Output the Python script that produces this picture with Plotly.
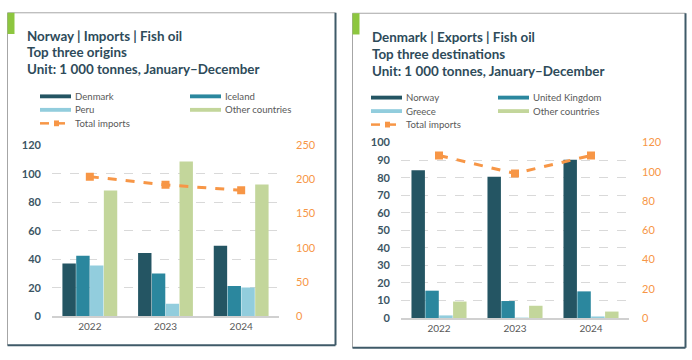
import plotly.graph_objects as go

# ---------------- data ----------------
years = ["2022", "2023", "2024"]

# Norway imports of fish oil (1 000 tonnes)
no_denmark = [37.0, 44.5, 49.5]
no_iceland = [42.5, 30.0, 21.3]
no_peru = [35.7, 8.8, 20.2]
no_other = [88.3, 108.5, 92.4]
no_total = [204, 192, 184]

# Denmark exports of fish oil (1 000 tonnes)
dk_norway = [84.3, 80.6, 90.3]
dk_uk = [15.6, 9.7, 15.2]
dk_greece = [1.5, 0.1, 0.9]
dk_other = [9.4, 7.0, 3.7]
dk_total = [111.2, 98.9, 111.2]

left_names = ["Denmark", "Iceland", "Peru", "Other countries"]
right_names = ["Norway", "United Kingdom", "Greece", "Other countries"]

# ---------------- style ----------------
W, H = 692, 360
C_DARK = "#245563"
C_MID = "#2B879E"
C_LIGHT = "#92CDDD"
C_GREEN = "#C3D69B"
C_ORANGE = "#F79646"
C_TITLE = "#2E4B5A"
C_TEXT = "#595959"
C_TICK = "#3B5564"
FONT = "Lato"
bar_colors = [C_DARK, C_MID, C_LIGHT, C_GREEN]


def px(x):
    return x / W


def py(y):
    return 1 - y / H


fig = go.Figure()

left_series = [no_denmark, no_iceland, no_peru, no_other]
right_series = [dk_norway, dk_uk, dk_greece, dk_other]

for name, vals, col in zip(left_names, left_series, bar_colors):
    fig.add_trace(go.Bar(x=years, y=vals, name=name, marker_color=col,
                         marker_line_width=0, xaxis="x", yaxis="y",
                         showlegend=False, offsetgroup=name))
fig.add_trace(go.Scatter(x=years, y=no_total, name="Total imports", mode="lines+markers",
                         line=dict(color=C_ORANGE, width=3, dash="dash"),
                         marker=dict(symbol="square", size=8, color=C_ORANGE),
                         xaxis="x", yaxis="y2", showlegend=False))

for name, vals, col in zip(right_names, right_series, bar_colors):
    fig.add_trace(go.Bar(x=years, y=vals, name=name, marker_color=col,
                         marker_line_width=0, xaxis="x2", yaxis="y3",
                         showlegend=False, offsetgroup=name + "r"))
fig.add_trace(go.Scatter(x=years, y=dk_total, name="Total imports", mode="lines+markers",
                         line=dict(color=C_ORANGE, width=3, dash="dash"),
                         marker=dict(symbol="square", size=8, color=C_ORANGE),
                         xaxis="x2", yaxis="y4", showlegend=False))

grid = dict(showgrid=True, gridcolor="#D9D9D9", griddash="dash", gridwidth=1,
            zeroline=False, showline=False, ticks="")
xcommon = dict(showgrid=False, showline=True, linecolor="#D0D0D0", linewidth=1.5,
               ticks="", tickfont=dict(family=FONT, size=10, color=C_TEXT),
               type="category")

fig.update_layout(
    width=W, height=H, margin=dict(l=0, r=0, t=0, b=0),
    paper_bgcolor="white", plot_bgcolor="white",
    barmode="group", bargap=0.27, bargroupgap=0.03,
    showlegend=False,
    font=dict(family=FONT, color=C_TEXT),
    xaxis=dict(domain=[px(52), px(279)], anchor="y", **xcommon),
    yaxis=dict(domain=[py(321), py(143.3)], range=[0, 120], dtick=20, anchor="x",
               tickfont=dict(family=FONT, size=11, color=C_TICK, weight="bold"),
               ticklabelstandoff=10, **grid),
    yaxis2=dict(domain=[py(321), py(143.3)], range=[0, 250], dtick=50, overlaying="y",
                side="right", anchor="x", showgrid=False, zeroline=False, ticks="",
                tickfont=dict(family=FONT, size=11, color=C_ORANGE), ticklabelstandoff=16),
    xaxis2=dict(domain=[px(401), px(629)], anchor="y3", **xcommon),
    yaxis3=dict(domain=[py(322.7), py(140.7)], range=[0, 100], dtick=10, anchor="x2",
                tickfont=dict(family=FONT, size=11, color=C_TICK, weight="bold"),
                ticklabelstandoff=10, **grid),
    yaxis4=dict(domain=[py(322.7), py(140.7)], range=[0, 120], dtick=20, overlaying="y3",
                side="right", anchor="x2", showgrid=False, zeroline=False, ticks="",
                tickfont=dict(family=FONT, size=11, color=C_ORANGE), ticklabelstandoff=12),
)

shapes = []
annotations = []

# panel borders
for (x0, y0, x1, y1) in [(7.5, 6, 335.5, 351), (352.5, 6.5, 685.5, 353.5)]:
    shapes.append(dict(type="line", xref="paper", yref="paper", x0=px(x0), x1=px(x1),
                       y0=py(y0), y1=py(y0), line=dict(color="#A6A6A6", width=1)))
    shapes.append(dict(type="line", xref="paper", yref="paper", x0=px(x0), x1=px(x0),
                       y0=py(y0), y1=py(y1), line=dict(color="#A6A6A6", width=1)))
    shapes.append(dict(type="line", xref="paper", yref="paper", x0=px(x1), x1=px(x1),
                       y0=py(y0), y1=py(y1), line=dict(color="#3F5A68", width=2)))
    shapes.append(dict(type="line", xref="paper", yref="paper", x0=px(x0), x1=px(x1),
                       y0=py(y1), y1=py(y1), line=dict(color="#3F5A68", width=2)))
    shapes.append(dict(type="rect", xref="paper", yref="paper", x0=px(x0), x1=px(x0 + 7),
                       y0=py(y0 + 22), y1=py(y0), fillcolor="#8DC63F", line=dict(width=0)))

# titles
titles = [
    (25, [30, 47, 64], ["Norway | Imports | Fish oil", "Top three origins",
                        "Unit: 1 000 tonnes, January\u2013December"]),
    (370, [31, 48.5, 66], ["Denmark | Exports | Fish oil", "Top three destinations",
                           "Unit: 1 000 tonnes, January\u2013December"]),
]
for x, ys, texts in titles:
    for y, t in zip(ys, texts):
        annotations.append(dict(x=px(x), y=py(y), xref="paper", yref="paper", text=t,
                                showarrow=False, xanchor="left", yanchor="middle",
                                font=dict(family=FONT, size=13.4, color=C_TITLE, weight="bold")))


# legends
def legend(names, col1_x, col2_x, rows_y, sym_w):
    pos = [(col1_x, rows_y[0]), (col2_x, rows_y[0]), (col1_x, rows_y[1]), (col2_x, rows_y[1])]
    for (x, y), nm, c in zip(pos, names, bar_colors):
        shapes.append(dict(type="rect", xref="paper", yref="paper", x0=px(x), x1=px(x + sym_w),
                           y0=py(y + 2), y1=py(y - 2), fillcolor=c, line=dict(width=0)))
        annotations.append(dict(x=px(x + sym_w + 2), y=py(y), xref="paper", yref="paper",
                                text=nm, showarrow=False, xanchor="left", yanchor="middle",
                                font=dict(family=FONT, size=9.6, color=C_TEXT)))
    x, y = col1_x, rows_y[2]
    shapes.append(dict(type="line", xref="paper", yref="paper", x0=px(x), x1=px(x + 9),
                       y0=py(y), y1=py(y), line=dict(color=C_ORANGE, width=2.5)))
    shapes.append(dict(type="line", xref="paper", yref="paper", x0=px(x + 14), x1=px(x + 25),
                       y0=py(y), y1=py(y), line=dict(color=C_ORANGE, width=2.5)))
    shapes.append(dict(type="rect", xref="paper", yref="paper", x0=px(x + 14), x1=px(x + 19),
                       y0=py(y + 3), y1=py(y - 3), fillcolor=C_ORANGE, line=dict(width=0)))
    annotations.append(dict(x=px(x + sym_w + 2), y=py(y), xref="paper", yref="paper",
                            text="Total imports", showarrow=False, xanchor="left",
                            yanchor="middle", font=dict(family=FONT, size=9.6, color=C_TEXT)))


legend(left_names, 40, 190, [92.7, 106.7, 120.7], 31)
legend(right_names, 371, 498, [94, 108, 122], 31)

fig.update_layout(shapes=shapes, annotations=annotations)
fig.write_html("out.html", config={"displayModeBar": False},
               post_script="document.body.style.margin='0';document.body.style.overflow='hidden';")
